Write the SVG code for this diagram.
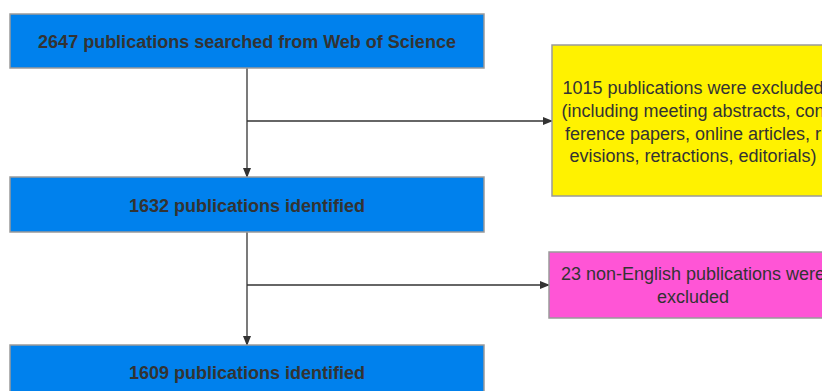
<svg xmlns="http://www.w3.org/2000/svg" width="822" height="391" viewBox="0 0 822 391">
<style>
.box{stroke:#9a9a9a;stroke-width:1.5}
.blue{fill:#0081ed}
.t{font-family:"Liberation Sans",Arial,sans-serif;fill:#333;text-anchor:middle}
.b{font-weight:bold;font-size:18px}
.r{font-size:18px}
.ln{stroke:#333;stroke-width:1.3;fill:none}
</style>
<defs>
<marker id="ah" markerWidth="10" markerHeight="8" refX="9" refY="4" orient="auto" markerUnits="userSpaceOnUse">
<path d="M0,0 L10,4 L0,8 Z" fill="#333"/>
</marker>
</defs>
<rect width="822" height="391" fill="#fff"/>
<g id="connectors">
<line class="ln" x1="247" y1="68" x2="247" y2="177" marker-end="url(#ah)"/>
<line class="ln" x1="247" y1="121" x2="552" y2="121" marker-end="url(#ah)"/>
<line class="ln" x1="247" y1="232" x2="247" y2="345" marker-end="url(#ah)"/>
<line class="ln" x1="247" y1="285" x2="549" y2="285" marker-end="url(#ah)"/>
</g>
<g id="n1">
<rect class="box blue" x="10" y="14" width="474" height="54"/>
<text class="t b" x="247" y="48">2647 publications searched from Web of Science</text>
</g>
<g id="n2">
<rect class="box blue" x="10" y="177" width="474" height="55"/>
<text class="t b" x="247" y="211.5">1632 publications identified</text>
</g>
<g id="n3">
<rect class="box blue" x="10" y="345" width="474" height="60"/>
<text class="t b" x="247" y="378.5">1609 publications identified</text>
</g>
<g id="n4">
<rect class="box" fill="#fff200" x="552" y="45" width="280" height="151"/>
<text class="t r" x="693" y="94">1015 publications were excluded</text>
<text class="t r" x="693" y="117">(including meeting abstracts, con</text>
<text class="t r" x="693" y="139.5">ference papers, online articles, r</text>
<text class="t r" x="693" y="162">evisions, retractions, editorials)</text>
</g>
<g id="n5">
<rect class="box" fill="#ff55d6" x="549" y="252" width="282" height="66"/>
<text class="t r" x="693" y="280">23 non-English publications were</text>
<text class="t r" x="693" y="303">excluded</text>
</g>
</svg>
